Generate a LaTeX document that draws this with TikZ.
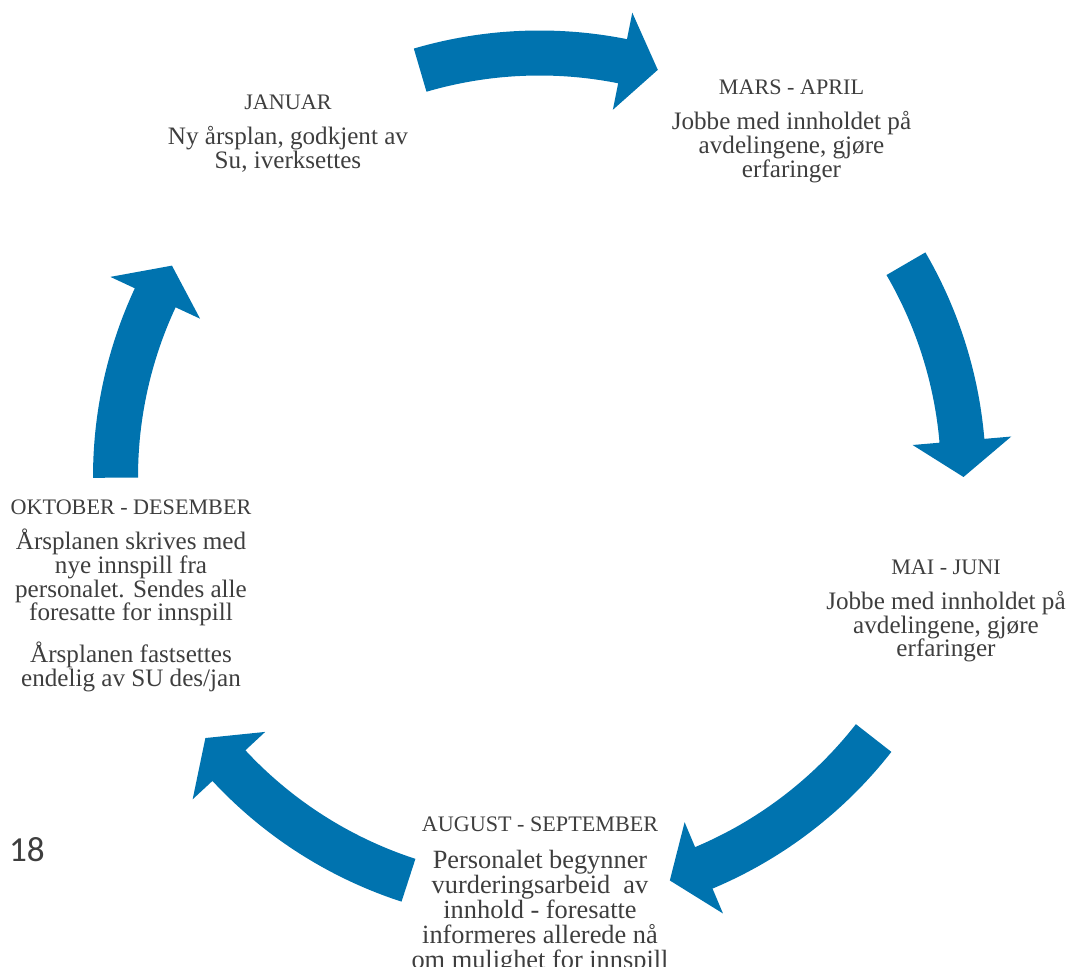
\documentclass[tikz,border=0pt]{standalone}
\usepackage{fontspec}
\setmainfont{Liberation Serif}
\newfontfamily\pagefont{Carlito}
\usetikzlibrary{calc,positioning}
\definecolor{cycleblue}{RGB}{0,115,175}
\definecolor{textgray}{RGB}{62,62,62}
\tikzset{x=0.02cm, y=0.02cm,
season/.style={align=center, text=textgray, inner sep=0pt, anchor=north,
  font=\fontsize{14.3}{13.6}\selectfont},
pagenum/.style={anchor=base east, inner sep=0pt, text=textgray,
  font=\pagefont\fontsize{20}{22}\selectfont}}
\newcommand{\monthhead}[1]{{\fontsize{12.6}{13.6}\selectfont #1}}
% block arrow on the big circle, from angle #1 to tip angle #2
\newcommand{\cyclearrow}[2]{%
  \fill[cycleblue] ($(c)+(#1:446.5)$) arc[start angle=#1, end angle=#2+4.9, radius=446.5]
    -- ($(c)+(#2+4.9:473.5)$) -- ($(c)+(#2:424)$) -- ($(c)+(#2+4.9:374.5)$)
    -- ($(c)+(#2+4.9:401.5)$) arc[start angle=#2+4.9, end angle=#1, radius=401.5] -- cycle;}

\begin{document}
\begin{tikzpicture}
    \useasboundingbox (0,0) rectangle (1072,967);
    \coordinate (c) at (539.5,490);

    % Arrows
    \cyclearrow{106.35}{73.8}
    \cyclearrow{30.2}{0}
    \cyclearrow{-38}{-72.1}
    \cyclearrow{-108}{-142}
    \cyclearrow{180.1}{150.1}

    % Nodes
    \node[season] (jan) at (288,872.2) {\monthhead{JANUAR}\\[6pt]
      Ny årsplan, godkjent av\\ Su, iverksettes};
    \node[season] (mar) at (791.5,887.2) {\monthhead{MARS - APRIL}\\[6pt]
      Jobbe med innholdet på\\ avdelingene, gjøre\\ erfaringer};
    \node[season] (mai) at (946,407.2) {\monthhead{MAI - JUNI}\\[6pt]
      Jobbe med innholdet på\\ avdelingene, gjøre\\ erfaringer};
    \node[season, font=\fontsize{15}{14.3}\selectfont] (aug) at (540,150.5)
      {\monthhead{AUGUST - SEPTEMBER}\\[6.6pt]
      Personalet begynner\\ vurderingsarbeid~ av\\ innhold - foresatte\\
      informeres allerede nå\\ om mulighet for innspill};
    \node[season] (okt) at (131,467.2) {\monthhead{OKTOBER - DESEMBER}\\[6pt]
      Årsplanen skrives med\\ nye innspill fra\\ personalet. Sendes alle\\
      foresatte for innspill\\[8pt] Årsplanen fastsettes\\ endelig av SU des/jan};
    \node[pagenum] (side) at (45,105.3) {e 18};
  \end{tikzpicture}
\end{document}
